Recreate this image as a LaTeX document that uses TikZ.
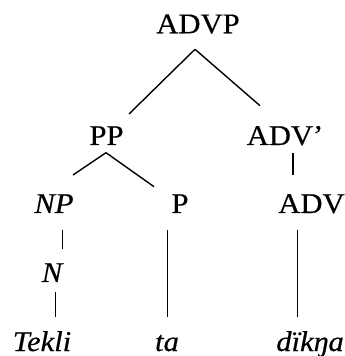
\documentclass[tikz,border=0pt]{standalone}
\usepackage{fontspec}
\setmainfont{Liberation Serif}[FakeStretch=1.07,FakeBold=0.5]
\usetikzlibrary{calc}
\begin{document}
\begin{tikzpicture}[x=1pt,y=1pt,
  lbl/.style={inner sep=0pt, anchor=base, font=\fontsize{28.6}{30}\selectfont},
  ilbl/.style={lbl, font=\fontsize{28.6}{30}\selectfont\itshape},
  edge/.style={line width=1.4pt, black}]
\useasboundingbox (0,0) rectangle (345,356);
\node[lbl]  (advp)   at (198,322.7) {ADVP};
\node[lbl]  (pp)     at (106.5,211) {PP};
\node[lbl]  (advbar) at (285,211)   {ADV’};
\node[ilbl] (np)     at (54,143)    {NP};
\node[lbl]  (p)      at (180,143)   {P};
\node[lbl]  (adv)    at (311.5,143) {ADV};
\node[ilbl] (n)      at (52,74)     {N};
\node[ilbl] (tekli)  at (42,5)      {Tekli};
\node[ilbl] (ta)     at (167,5)     {ta};
\node[ilbl] (dikna)  at (310,5)     {dïkŋa};
\draw[edge] ($(advp.base)+(-3,-16)$) -- ($(pp.base)+(22.5,31)$);
\draw[edge] ($(advp.base)+(-3,-16)$) -- ($(advbar.base)+(-25,39.3)$);
\draw[edge] ($(pp.base)+(-0.5,-7.7)$) -- ($(np.base)+(19,38)$);
\draw[edge] ($(pp.base)+(-0.5,-7.7)$) -- ($(p.base)+(-26,26.3)$);
\draw[edge] ($(advbar.base)+(8,-8)$) -- ($(adv.base)+(-18.5,38)$);
\draw[edge] ($(np.base)+(8.7,-17)$) -- ($(n.base)+(10.7,33)$);
\draw[edge] ($(n.base)+(3.7,-10)$) -- ($(tekli.base)+(13.7,34)$);
\draw[edge] ($(p.base)+(-12.3,-17)$) -- ($(ta.base)+(0.7,34)$);
\draw[edge] ($(adv.base)+(-13.8,-17)$) -- ($(dikna.base)+(-12.3,34)$);
\end{tikzpicture}
\end{document}
